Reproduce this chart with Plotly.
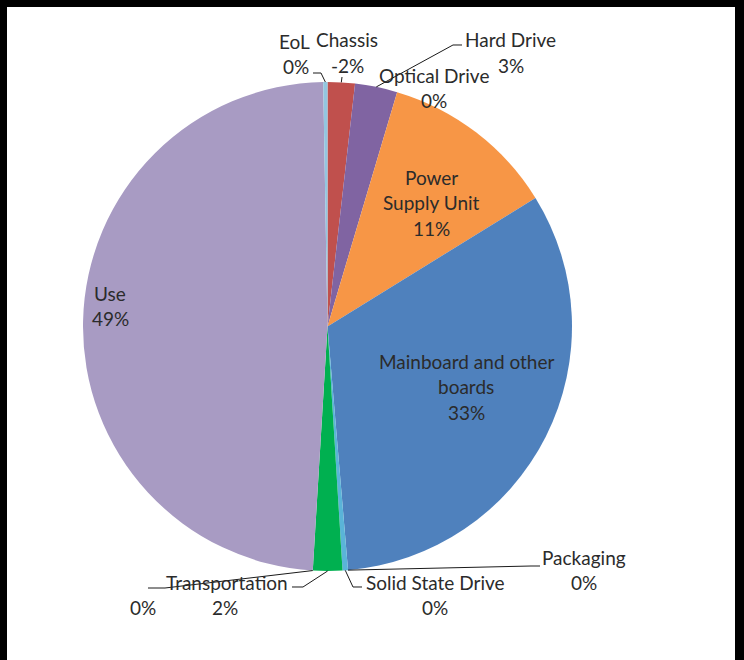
import math
import plotly.graph_objects as go

# ---- data ----
categories = ["Chassis", "Hard Drive", "Optical Drive", "Power Supply Unit",
              "Mainboard and other boards", "Packaging", "Solid State Drive",
              "Transportation", "", "Use", "EoL"]
values = [1.8, 2.8, 0.0, 11.6, 32.5, 0.0, 0.36, 1.94, 0.0, 48.8, 0.28]
pct_labels = ["-2%", "3%", "0%", "11%", "33%", "0%", "0%", "2%", "0%", "49%", "0%"]
colors = ["#C0504D", "#8064A2", "#4F81BD", "#F79646", "#4F81BD", "#4BACC6",
          "#5AB4D8", "#00B050", "#A89BC3", "#A89BC3", "#93C6E0"]

W, H = 744, 660
CX, CY, R = 327.5, 326.5, 244.5
FONT = "Lato, Carlito, Calibri, sans-serif"
TXT = "#2b2b2b"
FS = 19


def px(x):
    return x / W


def py(y):
    return 1 - y / H


fig = go.Figure(go.Pie(
    labels=[c if c else " " for c in categories],
    values=values,
    sort=False,
    direction="clockwise",
    rotation=0,
    textinfo="none",
    hoverinfo="label+value",
    marker=dict(colors=colors, line=dict(width=0)),
    showlegend=False,
    domain=dict(x=[px(CX - R), px(CX + R)], y=[py(CY + R), py(CY - R)]),
))

# angles (degrees clockwise from 12 o'clock) derived from the values
total = sum(values)
mid_angles = []
acc = 0.0
for v in values:
    mid_angles.append((acc + v / 2) / total * 360)
    acc += v


def edge_point(i):
    a = math.radians(mid_angles[i])
    return CX + R * math.sin(a), CY - R * math.cos(a)


# label placement: (index, x center, y of first line, name lines)
LS = 25.5
placements = [
    (10, 294, 41, ["EoL"]),
    (0, 347, 40, ["Chassis"]),
    (1, 511, 40, ["Hard Drive"]),
    (2, 434, 75, ["Optical Drive"]),
    (3, 431, 177, ["Power", "Supply Unit"]),
    (4, 466, 361, ["Mainboard and other", "boards"]),
    (5, 584, 557, ["Packaging"]),
    (6, 435, 582, ["Solid State Drive"]),
    (7, 227, 582, ["Transportation"]),
    (8, 143, 607, []),
    (9, 110, 293, ["Use"]),
]

annotations = []
for idx, x, y, names in placements:
    lines = names + [pct_labels[idx]]
    for k, t in enumerate(lines):
        xx = x
        if idx == 7 and k == 1:
            xx = 225
        if idx == 10 and k == 1:
            xx = 296
        annotations.append(dict(
            x=px(xx), y=py(y + k * LS), xref="paper", yref="paper",
            text=t, showarrow=False, xanchor="center", yanchor="middle",
            font=dict(family=FONT, size=FS, color=TXT),
        ))

# leader lines: label-side elbow points, ending at the slice edge
leaders = {
    10: [(313, 73), (321, 73)],
    0: [(342, 77)],
    1: [(462, 45), (453, 45)],
    5: [(540, 566), (531, 566)],
    6: [(362, 587), (353, 587)],
    7: [(292, 587), (303, 587)],
    8: [(148, 588), (165, 588)],
}
shapes = []
for idx, pts in leaders.items():
    pts = pts + [edge_point(idx)]
    path = "M " + " L ".join(f"{px(a):.5f},{py(b):.5f}" for a, b in pts)
    shapes.append(dict(type="path", path=path, xref="paper", yref="paper",
                       line=dict(color="#1a1a1a", width=1)))

# black frame (top, left, right)
FRAME = [(0, 0, W, 7), (0, 0, 7, H), (735, 0, W, H)]
for x0, y0, x1, y1 in FRAME:
    shapes.append(dict(type="rect", xref="paper", yref="paper",
                       x0=px(x0), x1=px(x1), y0=py(y1), y1=py(y0),
                       fillcolor="black", line=dict(width=0), layer="above"))

fig.update_layout(
    width=W, height=H,
    margin=dict(l=0, r=0, t=0, b=0),
    paper_bgcolor="white", plot_bgcolor="white",
    annotations=annotations, shapes=shapes,
)

fig.write_html(
    "out.html",
    config={"displayModeBar": False},
    post_script="document.body.style.margin='0';document.body.style.padding='0';"
                "document.body.style.overflow='hidden';",
)
